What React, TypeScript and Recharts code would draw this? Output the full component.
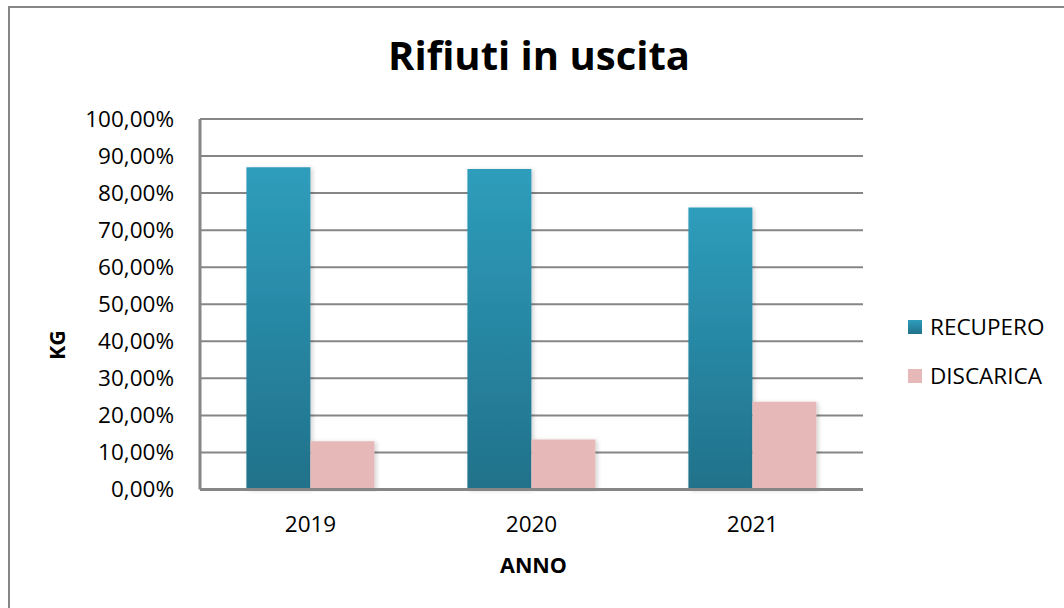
import React from 'react';
import { BarChart, Bar, XAxis, YAxis, CartesianGrid, Legend, Label } from 'recharts';

const years = ['2019', '2020', '2021'];
const recupero = [87.0, 86.5, 76.1];
const discarica = [13.0, 13.5, 23.7];
const yTicks = [0, 10, 20, 30, 40, 50, 60, 70, 80, 90, 100];

const data = years.map((y, i) => ({ anno: y, RECUPERO: recupero[i], DISCARICA: discarica[i] }));

const FONT = '"Open Sans", "Noto Sans", sans-serif';
const GRID = '#868686';

const fmt = (v: number) => v.toFixed(2).replace('.', ',') + '%';

const renderLegend = () => (
  <div style={{ fontFamily: FONT, fontSize: 22.5, color: '#000' }}>
    {[
      { name: 'RECUPERO', bg: 'linear-gradient(#2E9DBC, #21718A)' },
      { name: 'DISCARICA', bg: '#E6B8B7' },
    ].map((it, i) => (
      <div key={it.name} style={{ display: 'flex', alignItems: 'center', height: 24, marginBottom: i === 0 ? 25 : 0 }}>
        <div style={{ width: 14, height: 14, background: it.bg, marginRight: 8 }} />
        <span style={{ lineHeight: '24px' }}>{it.name}</span>
      </div>
    ))}
  </div>
);

export default function App() {
  return (
    <div style={{ position: 'absolute', left: 0, top: 0, width: 1064, height: 608, overflow: 'hidden', background: '#fff' }}>
      <div style={{ position: 'absolute', left: 8, top: 6, width: 1200, height: 800, borderLeft: `2px solid ${GRID}`, borderTop: `2px solid ${GRID}` }} />
      <div style={{ position: 'absolute', left: 0, top: 25, width: 1078, textAlign: 'center', fontFamily: FONT, fontWeight: 700, fontSize: 40, lineHeight: '60px', color: '#000' }}>
        Rifiuti in uscita
      </div>
      <div style={{ position: 'absolute', left: 0, top: 0 }}>
        <BarChart
          width={1064}
          height={608}
          data={data}
          margin={{ top: 119, right: 51, bottom: 58.5, left: 100 }}
          barCategoryGap="21%"
          barGap={0}
        >
          <defs>
            <linearGradient id="gradRec" x1="0" y1="0" x2="0" y2="1">
              <stop offset="0%" stopColor="#2E9DBC" />
              <stop offset="100%" stopColor="#21718A" />
            </linearGradient>
            <filter id="shadow" x="-20%" y="-5%" width="140%" height="110%">
              <feDropShadow dx="2" dy="1" stdDeviation="2" floodColor="#000" floodOpacity="0.18" />
            </filter>
          </defs>
          <CartesianGrid vertical={false} stroke={GRID} strokeWidth={2} />
          <XAxis
            dataKey="anno"
            height={60}
            axisLine={{ stroke: GRID, strokeWidth: 3 }}
            tickLine={false}
            tickSize={0}
            tickMargin={27}
            tick={{ fontFamily: FONT, fontSize: 22.5, fill: '#000' }}
          >
            <Label
              content={(props: any) => {
                const vb = props.viewBox || {};
                return (
                  <text x={vb.x + vb.width / 2 + 2} y={vb.y + 83} textAnchor="middle" fontFamily={FONT} fontWeight={700} fontSize={21.5} fill="#000">
                    ANNO
                  </text>
                );
              }}
            />
          </XAxis>
          <YAxis
            width={100}
            domain={[0, 100]}
            ticks={yTicks}
            interval={0}
            tickFormatter={fmt}
            axisLine={{ stroke: GRID, strokeWidth: 3 }}
            tickLine={false}
            tickSize={0}
            tickMargin={26}
            tick={{ fontFamily: FONT, fontSize: 22.5, fill: '#000' }}
          >
            <Label
              content={(props: any) => {
                const vb = props.viewBox || {};
                const x = vb.x - 35;
                const y = vb.y + 226;
                return (
                  <text x={x} y={y} transform={`rotate(-90, ${x}, ${y})`} textAnchor="middle" fontFamily={FONT} fontWeight={700} fontSize={21.5} fill="#000">
                    KG
                  </text>
                );
              }}
            />
          </YAxis>
          <Legend
            layout="vertical"
            align="right"
            verticalAlign="middle"
            content={renderLegend}
            wrapperStyle={{ position: 'absolute', left: 908, top: 315, width: 150 }}
          />
          <Bar dataKey="RECUPERO" fill="url(#gradRec)" filter="url(#shadow)" isAnimationActive={false} />
          <Bar dataKey="DISCARICA" fill="#E6B8B7" filter="url(#shadow)" isAnimationActive={false} />
        </BarChart>
      </div>
    </div>
  );
}
